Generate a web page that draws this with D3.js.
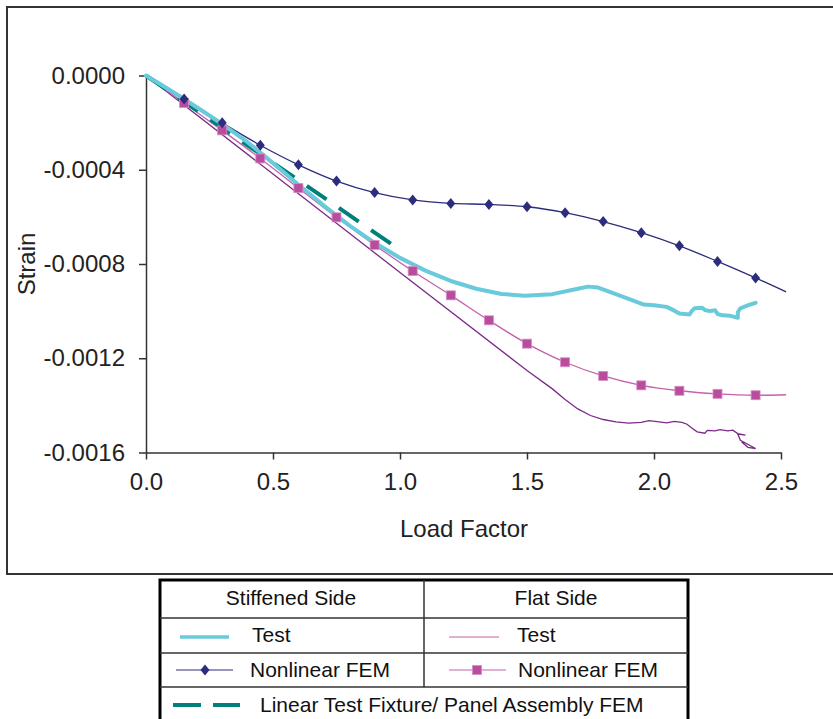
<!DOCTYPE html>
<html>
<head>
<meta charset="utf-8">
<script src="https://cdn.jsdelivr.net/npm/d3@7"></script>
<style>
  body { margin: 0; background: #fff; }
  svg { display: block; font-family: "Liberation Sans", Arial, sans-serif; }
</style>
</head>
<body>
<div id="chart"></div>
<script>
// tick labels
var xTicks = [0, 0.5, 1.0, 1.5, 2.0, 2.5]
var xTickLabels = ["0.0", "0.5", "1.0", "1.5", "2.0", "2.5"]
var yTicks = [0, -0.0004, -0.0008, -0.0012, -0.0016]
var yTickLabels = ["0.0000", "-0.0004", "-0.0008", "-0.0012", "-0.0016"]

// FEM results (first and last point carry no marker)
var femLoad = [0, 0.15, 0.30, 0.45, 0.60, 0.75, 0.90, 1.05, 1.20, 1.35, 1.50, 1.65, 1.80, 1.95, 2.10, 2.25, 2.40, 2.52]
var stiffFem = [0, -0.000100, -0.000201, -0.000296, -0.000379, -0.000448, -0.000497, -0.000528, -0.000543,
  -0.000547, -0.000557, -0.000582, -0.000620, -0.000667, -0.000723, -0.000789, -0.000859, -0.000918]
var flatFem = [0, -0.000117, -0.000233, -0.000352, -0.000478, -0.000602, -0.000719, -0.000830, -0.000933,
  -0.001039, -0.001138, -0.001217, -0.001275, -0.001315, -0.001338, -0.001351, -0.001357, -0.001355]

// stiffened side test
var stiffTestLoad = [0, 0.1, 0.2, 0.3, 0.4, 0.5, 0.6, 0.7, 0.8, 0.9, 1.0, 1.1, 1.2, 1.3, 1.4, 1.49, 1.6, 1.7, 1.74,
  1.78, 1.85, 1.9, 1.96, 2.0, 2.05, 2.08, 2.10, 2.14, 2.15, 2.16, 2.19, 2.20, 2.22, 2.24, 2.25, 2.27, 2.30,
  2.33, 2.33, 2.34, 2.37, 2.40]
var stiffTest = [0, -0.000066, -0.000135, -0.000206, -0.000283, -0.000372, -0.000464, -0.000552, -0.000636,
  -0.000710, -0.000774, -0.000828, -0.000872, -0.000905, -0.000927, -0.000935, -0.000928, -0.000905, -0.000896,
  -0.000900, -0.000928, -0.000948, -0.000972, -0.000975, -0.000982, -0.000998, -0.001010, -0.001014, -0.000998,
  -0.000988, -0.000986, -0.000995, -0.001000, -0.000996, -0.001012, -0.001018, -0.001020,
  -0.001028, -0.001005, -0.000988, -0.000975, -0.000965]

// flat side test
var flatTestLoad = [0, 0.5, 1.0, 1.5, 1.6, 1.65, 1.7, 1.75, 1.8, 1.85, 1.9, 1.95, 1.98, 2.02, 2.05, 2.08, 2.11,
  2.13, 2.15, 2.17, 2.20, 2.21, 2.24, 2.26, 2.29, 2.31, 2.33, 2.36, 2.33, 2.34, 2.40, 2.37, 2.345]
var flatTest = [0, -0.000418, -0.000836, -0.001252, -0.001330, -0.001375, -0.001415, -0.001443, -0.001460,
  -0.001470, -0.001475, -0.001472, -0.001465, -0.001470, -0.001474, -0.001468, -0.001472, -0.001480, -0.001497,
  -0.001512, -0.001518, -0.001506, -0.001508, -0.001503, -0.001508, -0.001505, -0.001520, -0.001526, -0.001522,
  -0.001548, -0.001583, -0.001578, -0.001555]

// linear fixture FEM
var linearLoad = [0, 0.97]
var linearFem = [0, -0.000718]

var legendRows = [
  ["Stiffened Side", "Flat Side"],
  ["Test", "Test"],
  ["Nonlinear FEM", "Nonlinear FEM"]
]
var legendWide = "Linear Test Fixture/ Panel Assembly FEM"

var cCyan = "#68cadb", cNavy = "#2c2d7d", cPink = "#c462ab", cPinkMark = "#b94d9d",
    cPurple = "#7b2a88", cTeal = "#00807b"

var svg = d3.select("#chart").append("svg")
    .attr("width", 833)
    .attr("height", 719)

// outer frame
svg.append("rect")
    .attr("x", 7).attr("y", 7)
    .attr("width", 840).attr("height", 567)
    .attr("fill", "none").attr("stroke", "#333").attr("stroke-width", 2)

var x = d3.scaleLinear().domain([0, 2.5]).range([146, 781])
var y = d3.scaleLinear().domain([0, -0.0016]).range([75.5, 452.5])

function pts(xs, ys) {
    return xs.map(function (d, i) { return [d, ys[i]] })
}

var line = d3.line().x(function (d) { return x(d[0]) }).y(function (d) { return y(d[1]) })
var smooth = d3.line().curve(d3.curveCatmullRom.alpha(0.5))
    .x(function (d) { return x(d[0]) }).y(function (d) { return y(d[1]) })

// axes
var yAxis = svg.append("g")
    .attr("transform", "translate(146,0)")
    .call(d3.axisLeft(y).tickValues(yTicks).tickSize(7).tickSizeOuter(0).tickPadding(14)
        .tickFormat(function (d, i) { return yTickLabels[i] }))
var xAxis = svg.append("g")
    .attr("transform", "translate(0,452.5)")
    .call(d3.axisBottom(x).tickValues(xTicks).tickSize(7).tickSizeOuter(0).tickPadding(13)
        .tickFormat(function (d, i) { return xTickLabels[i] }))
svg.selectAll(".domain, .tick line").attr("stroke", "#333").attr("stroke-width", 1.5)
svg.selectAll(".tick text").attr("font-size", 24).attr("fill", "#222")
    .attr("font-family", "'Liberation Sans', Arial, sans-serif")

svg.append("text")
    .attr("x", 464).attr("y", 537)
    .attr("text-anchor", "middle").attr("font-size", 24).attr("fill", "#222")
    .text("Load Factor")
svg.append("text")
    .attr("transform", "translate(35,264) rotate(-90)")
    .attr("text-anchor", "middle").attr("font-size", 24).attr("fill", "#222")
    .text("Strain")

// series
svg.append("path").attr("d", line(pts(flatTestLoad, flatTest)))
    .attr("fill", "none").attr("stroke", cPurple).attr("stroke-width", 1.3)
svg.append("path").attr("d", smooth(pts(femLoad, flatFem)))
    .attr("fill", "none").attr("stroke", cPink).attr("stroke-width", 1.3)
svg.append("path").attr("d", smooth(pts(femLoad, stiffFem)))
    .attr("fill", "none").attr("stroke", cNavy).attr("stroke-width", 1.3)
svg.append("path").attr("d", line(pts(linearLoad, linearFem)))
    .attr("fill", "none").attr("stroke", cTeal).attr("stroke-width", 4)
    .attr("stroke-dasharray", "24,15")
svg.append("path").attr("d", line(pts(stiffTestLoad, stiffTest)))
    .attr("fill", "none").attr("stroke", cCyan).attr("stroke-width", 4)
    .attr("stroke-linejoin", "round").attr("stroke-linecap", "round")

var markIdx = d3.range(1, femLoad.length - 1)

function diamond(g, cx, cy) {
    g.append("path")
        .attr("d", "M" + cx + "," + (cy - 5.5) + "L" + (cx + 4.5) + "," + cy + "L" + cx + "," + (cy + 5.5) +
            "L" + (cx - 4.5) + "," + cy + "Z")
        .attr("fill", cNavy)
}
function square(g, cx, cy) {
    g.append("rect")
        .attr("x", cx - 4.5).attr("y", cy - 4.5).attr("width", 9).attr("height", 9)
        .attr("fill", cPinkMark).attr("stroke", "#d98cc6").attr("stroke-width", 0.8)
}

var marks = svg.append("g")
markIdx.forEach(function (i) { square(marks, x(femLoad[i]), y(flatFem[i])) })
markIdx.forEach(function (i) { diamond(marks, x(femLoad[i]), y(stiffFem[i])) })

// legend table
var lg = svg.append("g")
var L = 160, R = 688, mid = 424, T = 580
var rowY = [T, 618, 653, 687]
lg.append("rect").attr("x", L).attr("y", T).attr("width", R - L).attr("height", 160)
    .attr("fill", "none").attr("stroke", "#000").attr("stroke-width", 3)
rowY.slice(1).forEach(function (ry) {
    lg.append("line").attr("x1", L).attr("x2", R).attr("y1", ry).attr("y2", ry)
        .attr("stroke", "#333").attr("stroke-width", 1.5)
})
lg.append("line").attr("x1", mid).attr("x2", mid).attr("y1", T).attr("y2", rowY[3])
    .attr("stroke", "#333").attr("stroke-width", 1.5)

function lgText(tx, ty, s, anchor) {
    lg.append("text").attr("x", tx).attr("y", ty).attr("font-size", 21)
        .attr("text-anchor", anchor || "start").attr("fill", "#111").text(s)
}
lgText(291, 605, legendRows[0][0], "middle")
lgText(556, 605, legendRows[0][1], "middle")
lgText(252, 642, legendRows[1][0])
lgText(517, 642, legendRows[1][1])
lgText(250, 677, legendRows[2][0])
lgText(518, 677, legendRows[2][1])
lgText(260, 712, legendWide)

lg.append("line").attr("x1", 180).attr("x2", 229).attr("y1", 637).attr("y2", 637)
    .attr("stroke", cCyan).attr("stroke-width", 3.5)
lg.append("line").attr("x1", 449).attr("x2", 499).attr("y1", 637).attr("y2", 637)
    .attr("stroke", cPink).attr("stroke-width", 1.2)
lg.append("line").attr("x1", 176).attr("x2", 233).attr("y1", 670).attr("y2", 670)
    .attr("stroke", cNavy).attr("stroke-width", 1.2)
diamond(lg, 205, 670)
lg.append("line").attr("x1", 449).attr("x2", 506).attr("y1", 670).attr("y2", 670)
    .attr("stroke", cPink).attr("stroke-width", 1.2)
square(lg, 477, 670)
lg.append("line").attr("x1", 173).attr("x2", 240).attr("y1", 705).attr("y2", 705)
    .attr("stroke", cTeal).attr("stroke-width", 4).attr("stroke-dasharray", "28,12")
</script>
</body>
</html>
